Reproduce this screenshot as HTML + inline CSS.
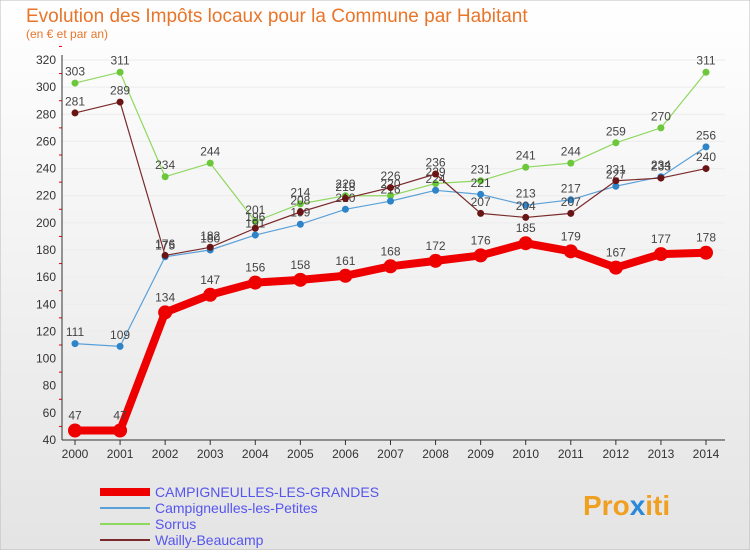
<!DOCTYPE html>
<html><head><meta charset="utf-8"><style>
body{margin:0;width:750px;height:550px;overflow:hidden;font-family:"Liberation Sans",sans-serif;}
</style></head><body>
<svg width="750" height="550" xmlns="http://www.w3.org/2000/svg">
<defs>
<linearGradient id="bg" x1="0" y1="0" x2="0" y2="1"><stop offset="0" stop-color="#ffffff"/><stop offset="1" stop-color="#e4e4e4"/></linearGradient>
</defs>
<rect x="0" y="0" width="750" height="550" fill="url(#bg)" stroke="#bbb"/>
<text x="26" y="22" font-size="19" fill="#e8752a">Evolution des Impôts locaux pour la Commune par Habitant</text>
<text x="26" y="38" font-size="12" fill="#e8752a">(en € et par an)</text>
<g id="axes"></g>
<g id="series"></g>
<g id="legend"></g>
<text x="583" y="515" font-size="28" font-weight="bold"><tspan fill="#f0a020">Pro</tspan><tspan fill="#2a8ad8">x</tspan><tspan fill="#f0a020">iti</tspan></text>
</svg>
<script>
const years=[2000,2001,2002,2003,2004,2005,2006,2007,2008,2009,2010,2011,2012,2013,2014];
const grandes=[47,47,134,147,156,158,161,168,172,176,185,179,167,177,178];
const petites=[111,109,175,180,191,199,210,216,224,221,213,217,227,234,256];
const sorrus=[303,311,234,244,201,214,220,220,229,231,241,244,259,270,311];
const wailly=[281,289,176,182,196,208,218,226,236,207,204,207,231,233,240];
const yTicks=[40,60,80,100,120,140,160,180,200,220,240,260,280,300,320];
const names=["CAMPIGNEULLES-LES-GRANDES","Campigneulles-les-Petites","Sorrus","Wailly-Beaucamp"];
const NS="http://www.w3.org/2000/svg";
function X(i){return 75+i*(706-75)/14;}
function Y(v){return 440-(v-40)*380/280;}
function mk(t,a,p){const e=document.createElementNS(NS,t);for(const k in a)e.setAttribute(k,a[k]);p.appendChild(e);return e;}
const ax=document.getElementById('axes');
yTicks.forEach(v=>{
 const l=mk('line',{x1:62,x2:725,y1:Y(v),y2:Y(v),stroke:'#ececec'},ax);
 
 
 const t=mk('text',{x:56,y:Y(v)+4,'text-anchor':'end','font-size':12,fill:'#333'},ax);t.textContent=v;
 
 
 mk('line',{x1:59,x2:62,y1:Y(v+10),y2:Y(v+10),stroke:'#e00'},ax);
});
mk('line',{x1:62,x2:62,y1:55,y2:440,stroke:'#333'},ax);
mk('line',{x1:62,x2:725,y1:440,y2:440,stroke:'#333'},ax);
years.forEach((y,i)=>{
 mk('line',{x1:X(i),x2:X(i),y1:440,y2:445,stroke:'#333'},ax);
 const t=mk('text',{x:X(i),y:458,'text-anchor':'middle','font-size':12,fill:'#333'},ax);t.textContent=y;
 
 
});
const sg=document.getElementById('series');
function draw(data,color,dot,w,r,name){
 const g=mk('g',{},sg);
 
 
 mk('polyline',{points:data.map((v,i)=>X(i)+','+Y(v)).join(' '),fill:'none',stroke:color,'stroke-width':w,'stroke-linejoin':'round'},g);
 data.forEach((v,i)=>{
  const c=mk('circle',{cx:X(i),cy:Y(v),r:r,fill:dot},g);
  
  
  const t=mk('text',{x:X(i),y:Y(v)-r-4,'text-anchor':'middle','font-size':12,fill:'#444'},g);t.textContent=v;
 });
}
draw(sorrus,'#8fd860','#6cc83a',1.2,3.5,'series-sorrus');
draw(petites,'#5aa0d8','#2d84c8',1.2,3.5,'series-petites');
draw(wailly,'#7a2a2a','#6a1515',1.2,3.5,'series-wailly');
draw(grandes,'#ee0000','#ee0000',8,7,'series-grandes');
const lg=document.getElementById('legend');
const cols=['#ee0000','#5aa0d8','#8fd860','#7a2a2a'];const ws=[8,2,2,2];
names.forEach((n,i)=>{
 const y=492+i*16;
 const l=mk('line',{x1:100,x2:150,y1:y,y2:y,stroke:cols[i],'stroke-width':ws[i]},lg);
 
 
 const t=mk('text',{x:155,y:y+5,'font-size':14,fill:'#5555ee'},lg);t.textContent=n;
 
 
});
</script>
</body></html>
